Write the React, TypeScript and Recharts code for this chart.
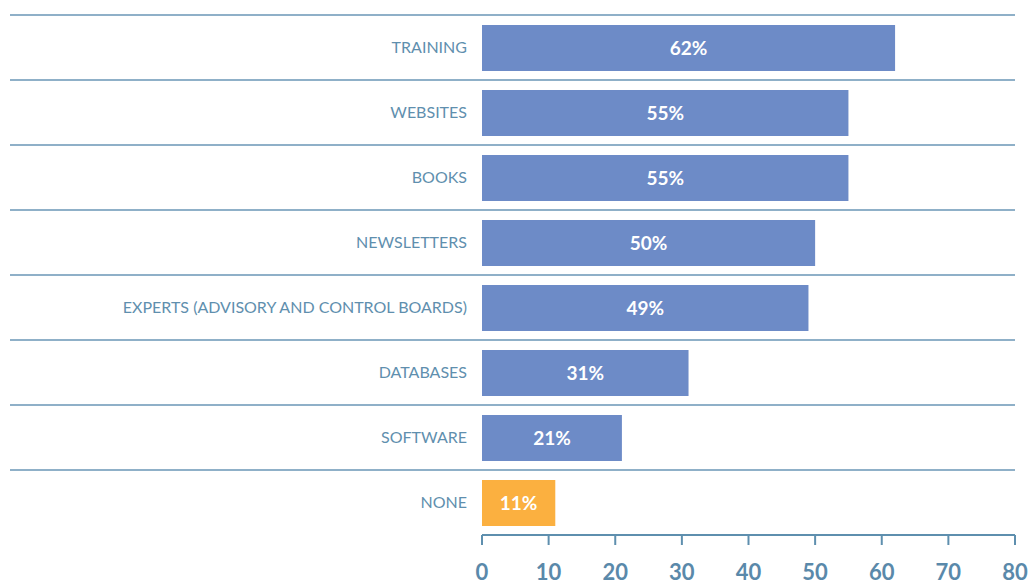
import React from 'react';
import { BarChart, Bar, XAxis, YAxis, Cell, LabelList } from 'recharts';

const categories = ['TRAINING', 'WEBSITES', 'BOOKS', 'NEWSLETTERS', 'EXPERTS (ADVISORY AND CONTROL BOARDS)', 'DATABASES', 'SOFTWARE', 'NONE'];
const values = [62, 55, 55, 50, 49, 31, 21, 11];
const barColors = ['#6d8bc7', '#6d8bc7', '#6d8bc7', '#6d8bc7', '#6d8bc7', '#6d8bc7', '#6d8bc7', '#fbb040'];
const xTicks = [0, 10, 20, 30, 40, 50, 60, 70, 80];

const data = categories.map((name, i) => ({ name, value: values[i], color: barColors[i] }));

const FONT = 'Lato, "Open Sans", sans-serif';

const CategoryTick = (props: any) => {
  const { x, y, payload } = props;
  const half = payload && typeof payload.offset === 'number' && payload.offset > 0 ? payload.offset : 32.5;
  return (
    <g>
      <line x1={10} x2={1015} y1={y - half} y2={y - half} stroke="#8fb0c8" strokeWidth={2} />
      <text x={x} y={y} dy="0.35em" textAnchor="end" fill="#5f8fae" fontSize={16} fontFamily={FONT}>
        {payload.value}
      </text>
    </g>
  );
};

export default function App() {
  return (
    <div style={{ position: 'absolute', left: 0, top: 0, width: 1030, height: 580, overflow: 'hidden' }}>
      <BarChart
        width={1030}
        height={580}
        data={data}
        layout="vertical"
        margin={{ top: 15, right: 15, bottom: 0, left: 0 }}
        barSize={46}
        style={{ overflow: 'visible' }}
      >
        <XAxis
          type="number"
          domain={[0, 80]}
          ticks={xTicks}
          height={45}
          axisLine={{ stroke: '#5e8fae', strokeWidth: 2 }}
          tickLine={{ stroke: '#5e8fae', strokeWidth: 2 }}
          tickSize={10}
          tickMargin={19}
          tick={{ fill: '#5a89aa', fontSize: 22, fontWeight: 'bold', fontFamily: FONT }}
        />
        <YAxis
          type="category"
          dataKey="name"
          width={482}
          axisLine={false}
          tickLine={false}
          tickSize={8}
          tickMargin={7}
          tick={<CategoryTick />}
          interval={0}
        />
        <Bar dataKey="value" isAnimationActive={false}>
          {data.map((d, i) => (
            <Cell key={i} fill={d.color} />
          ))}
          <LabelList
            dataKey="value"
            position="center"
            formatter={(v: any) => `${v}%`}
            fill="#ffffff"
            fontSize={19}
            fontWeight="bold"
            fontFamily={FONT}
          />
        </Bar>
      </BarChart>
    </div>
  );
}
